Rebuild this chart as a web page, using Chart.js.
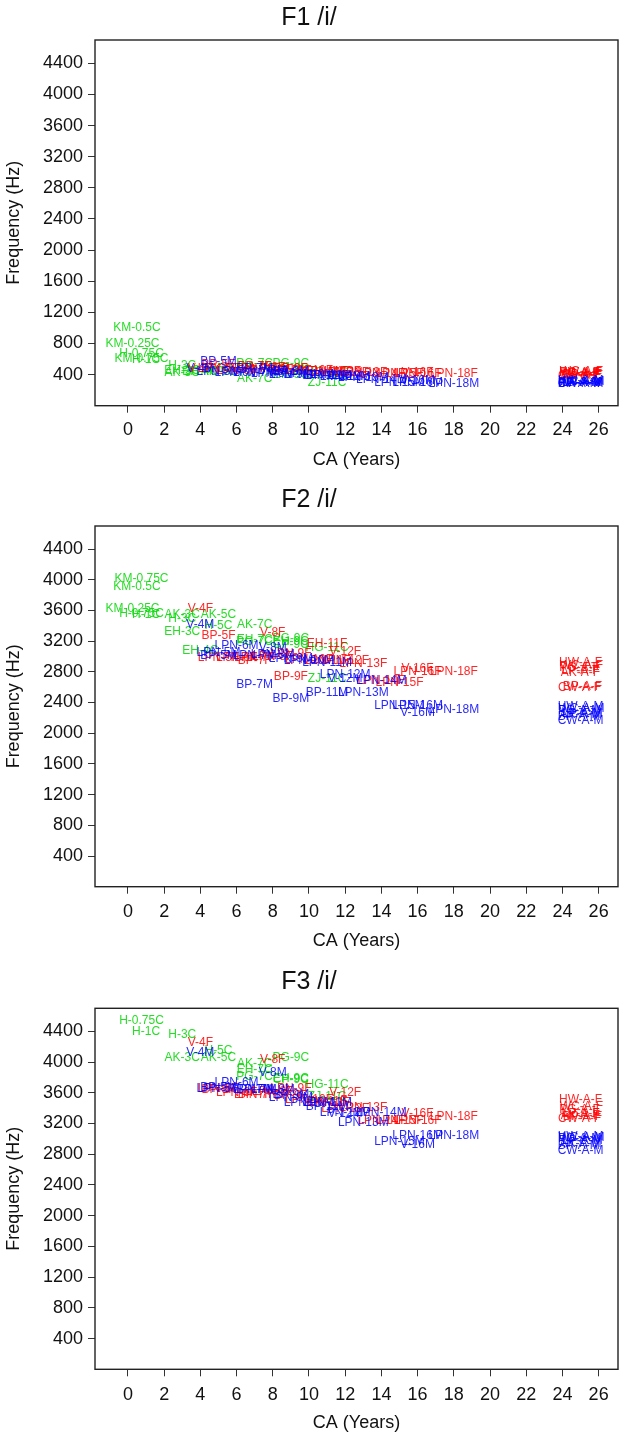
<!DOCTYPE html>
<html><head><meta charset="utf-8">
<script src="https://cdn.jsdelivr.net/npm/chart.js@4.4.1/dist/chart.umd.min.js"></script>
<style>
html,body{margin:0;padding:0;background:#fff;width:627px;height:1436px;overflow:hidden}
canvas{position:absolute;left:0}
</style></head><body>
<canvas id="c1" width="627" height="480" style="top:0px"></canvas>
<canvas id="c2" width="627" height="480" style="top:480px"></canvas>
<canvas id="c3" width="627" height="476" style="top:960px"></canvas>
<script>
// ---------------- DATA ----------------
const speakers = [
 'KM-0.25C','KM-0.5C','KM-0.75C','H-0.75C','H-1C','H-3C','AK-3C','EH-3C','EH-4C','H-5C','AK-5C','AK-7C','EH-7C','PG-7C','CP-9C','PG-9C','EH-9C','HG-11C','ZJ-11C',
 'V-4F','BP-5F','LPN-5F','LPN-6F','BP-7F','LPN-7F','V-8F','LPN-8F','BP-9F','LPN-9F','LPN-10F','EH-11F','LPN-11F','V-12F','LPN-12F','LPN-13F','LPN-14F','LPN-15F','V-16F','LPN-16F','LPN-18F',
 'V-4M','BP-5M','LPN-5M','LPN-6M','BP-7M','LPN-7M','V-8M','LPN-8M','BP-9M','LPN-9M','LPN-10M','BP-11M','LPN-11M','V-12M','LPN-12M','LPN-13M','LPN-14M','LPN-15M','LPN-16M','V-16M','LPN-18M',
 'HW-A-F','WC-A-F','PG-A-F','LP-A-F','AK-A-F','BP-A-F','CW-A-F',
 'HW-A-M','WC-A-M','PG-A-M','LP-A-M','AK-A-M','BP-A-M','CW-A-M'
];
const ages = [
 0.25,0.5,0.75,0.75,1,3,3,3,4,5,5,7,7,7,9,9,9,11,11,
 4,5,5,6,7,7,8,8,9,9,10,11,11,12,12,13,14,15,16,16,18,
 4,5,5,6,7,7,8,8,9,9,10,11,11,12,12,13,14,15,16,16,18,
 25,25.05,24.95,25,25,25.1,24.95,
 25,25.05,24.95,25.1,25,24.9,25
];
const groups = [
 'C','C','C','C','C','C','C','C','C','C','C','C','C','C','C','C','C','C','C',
 'F','F','F','F','F','F','F','F','F','F','F','F','F','F','F','F','F','F','F','F','F',
 'M','M','M','M','M','M','M','M','M','M','M','M','M','M','M','M','M','M','M','M','M',
 'F','F','F','F','F','F','F',
 'M','M','M','M','M','M','M'
];
const f1Values = [
 800,1000,600,670,595,520,420,455,440,480,440,350,500,540,470,545,400,420,300,
 480,530,470,455,500,470,485,460,470,450,445,440,440,435,425,430,415,410,420,415,410,
 470,570,440,430,470,430,450,415,440,405,395,385,385,370,375,365,340,290,290,320,285,
 430,440,420,410,405,400,390,
 320,310,300,295,290,285,280
];
const f2Values = [
 3617,3904,4009,3560,3545,3487,3545,3322,3074,3405,3540,3409,3215,3195,3150,3226,3190,3110,2705,
 3617,3270,2985,2985,2943,2990,3313,3000,2735,3030,2960,3165,2950,3068,2940,2900,2690,2661,2835,2800,2800,
 3409,3004,3045,3140,2626,3010,3120,3020,2452,2975,2950,2522,2920,2710,2760,2530,2683,2357,2357,2261,2304,
 2922,2875,2850,2810,2790,2600,2590,
 2350,2320,2290,2260,2240,2210,2165
];
const f3Values = [
 4900,5000,4950,4539,4391,4352,4057,4760,4780,4153,4057,3979,3900,3806,3770,4053,3790,3700,3555,
 4248,3640,3650,3600,3580,3576,4031,3610,3560,3654,3505,3490,3470,3600,3390,3402,3237,3237,3330,3237,3294,
 4127,3660,3650,3734,3640,3645,3866,3640,3576,3541,3476,3420,3472,3330,3341,3211,3337,2968,3047,2925,3047,
 3511,3424,3380,3330,3300,3290,3259,
 3033,3015,3000,2970,2940,2910,2851
];
const xTicks = [0,2,4,6,8,10,12,14,16,18,20,22,24,26];
const yTicks = [400,800,1200,1600,2000,2400,2800,3200,3600,4000,4400];
const panelTitles = ['F1 /i/','F2 /i/','F3 /i/'];
const xAxisTitle = 'CA (Years)';
const yAxisTitle = 'Frequency (Hz)';
const groupOrder = ['C','F','M'];

// ---------------- STYLE / LAYOUT ----------------
const FONT = '"Liberation Sans", Arial, Helvetica, sans-serif';
Chart.defaults.font.family = FONT;
Chart.defaults.color = '#111';
const groupColors = {C:'rgba(0,215,0,0.85)', F:'rgba(255,0,0,0.85)', M:'rgba(0,0,255,0.85)'};
const panels = [
 {id:'c1', values:f1Values, title:panelTitles[0], tPad:{top:3,bottom:7}, xh:74.3, tickPad:6.5, xtPad:9.2},
 {id:'c2', values:f2Values, title:panelTitles[1], tPad:{top:5,bottom:11}, xh:73.3, tickPad:8, xtPad:8.5},
 {id:'c3', values:f3Values, title:panelTitles[2], tPad:{top:6.7,bottom:11.6}, xh:66.7, tickPad:8, xtPad:2.2}
];

const labelPlugin = {
  id:'pointText',
  afterDatasetsDraw(chart){
    const {ctx, chartArea:a} = chart;
    ctx.save();
    ctx.beginPath(); ctx.rect(a.left, a.top, a.right-a.left, a.bottom-a.top); ctx.clip();
    ctx.font = '12px ' + FONT;
    ctx.textAlign = 'center'; ctx.textBaseline = 'middle';
    chart.data.datasets.forEach((ds, di) => {
      const meta = chart.getDatasetMeta(di);
      ctx.fillStyle = ds.textColor;
      meta.data.forEach((el, j) => ctx.fillText(ds.pointLabels[j], el.x, el.y));
    });
    ctx.restore();
  }
};
const framePlugin = {
  id:'frame',
  afterDraw(chart){
    const {ctx, chartArea:a} = chart;
    ctx.save();
    ctx.strokeStyle = '#222'; ctx.lineWidth = 1.4;
    ctx.strokeRect(a.left, a.top, a.right-a.left, a.bottom-a.top);
    ctx.restore();
  }
};

panels.forEach(p => {
  const datasets = groupOrder.map(g => {
    const idx = groups.map((gg,i)=>gg===g?i:-1).filter(i=>i>=0);
    return {
      label: g,
      data: idx.map(i => ({x: ages[i], y: p.values[i]})),
      pointLabels: idx.map(i => speakers[i]),
      textColor: groupColors[g],
      pointRadius: 0, pointHoverRadius: 0, showLine: false
    };
  });
  new Chart(document.getElementById(p.id), {
    type: 'scatter',
    data: {datasets},
    plugins: [labelPlugin, framePlugin],
    options: {
      responsive: false, animation: false, events: [],
      layout: {padding: {left:0, right:9, top:0, bottom:0}},
      plugins: {
        legend: {display:false}, tooltip: {enabled:false},
        title: {display:true, text:p.title, color:'#111', font:{size:25, weight:'normal', family:FONT}, padding:p.tPad}
      },
      scales: {
        x: {
          type:'linear', min:-1.82, max:27.07,
          afterBuildTicks: s => { s.ticks = xTicks.map(v => ({value:v})); },
          afterFit: s => { s.height = p.xh; },
          grid: {drawOnChartArea:false, drawTicks:true, tickLength:7, color:'#333', lineWidth:1},
          border: {display:false},
          ticks: {font:{size:18, family:FONT}, color:'#111', padding:p.tickPad, maxRotation:0, autoSkip:false, callback: v => String(v)},
          title: {display:true, text:xAxisTitle, color:'#111', font:{size:18, family:FONT}, padding:{top:0, bottom:p.xtPad}}
        },
        y: {
          type:'linear', min:0, max:4700,
          afterBuildTicks: s => { s.ticks = yTicks.map(v => ({value:v})); },
          afterFit: s => { s.width = 95; },
          grid: {drawOnChartArea:false, drawTicks:true, tickLength:7, color:'#333', lineWidth:1},
          border: {display:false},
          ticks: {font:{size:18, family:FONT}, color:'#111', padding:5, autoSkip:false, callback: v => String(v)},
          title: {display:true, text:yAxisTitle, color:'#111', font:{size:18, family:FONT}, padding:{top:3, bottom:0}}
        }
      }
    }
  });
});
</script>
</body></html>
